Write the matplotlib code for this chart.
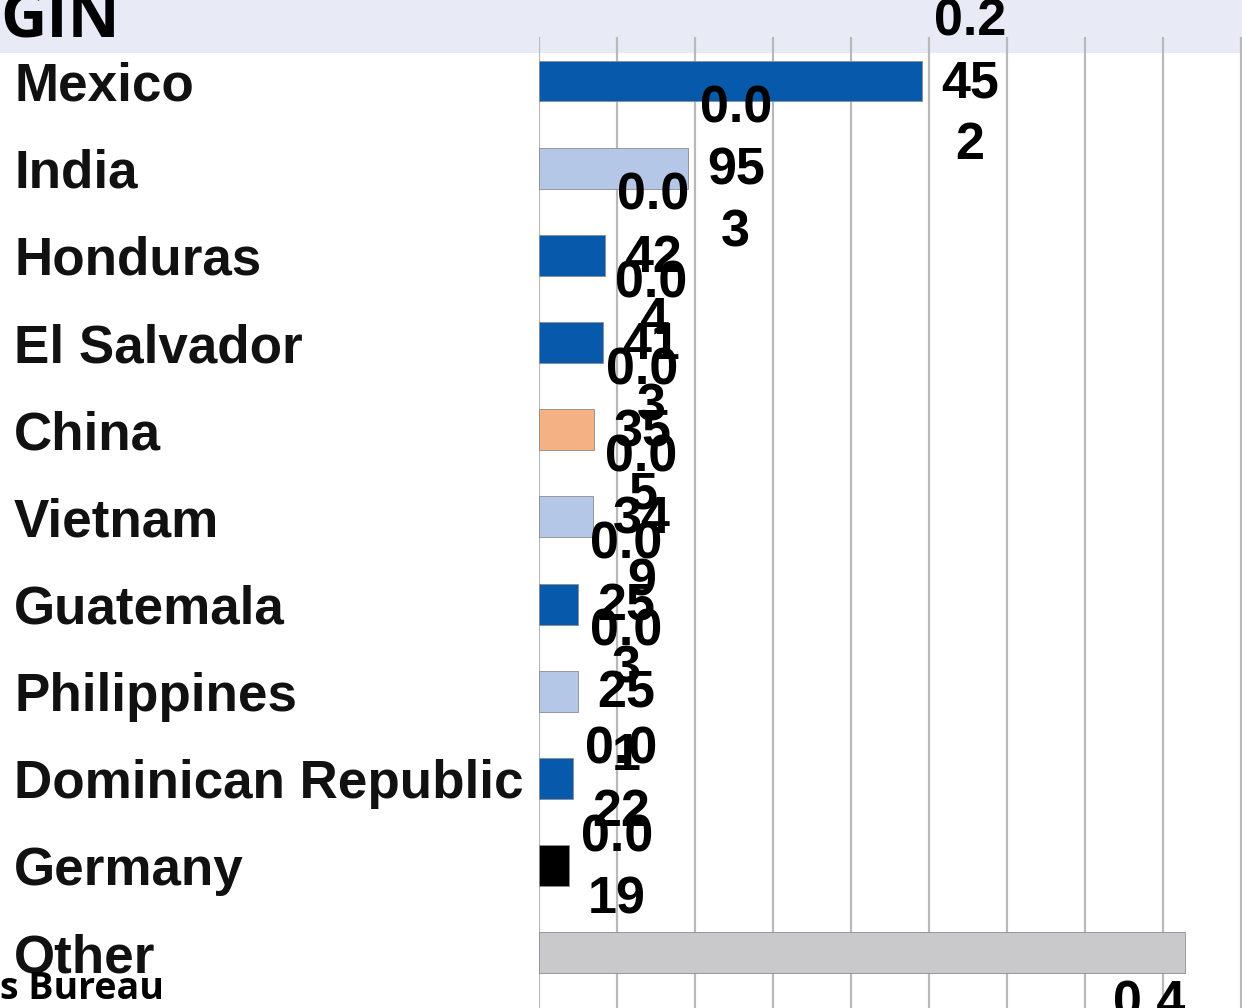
import numpy as np
import matplotlib
matplotlib.use("Agg")
import matplotlib.pyplot as plt
from matplotlib import transforms
from matplotlib.patches import Rectangle

# данные: доля импорта по странам происхождения
countries = ['Mexico', 'India', 'Honduras', 'El Salvador', 'China', 'Vietnam',
             'Guatemala', 'Philippines', 'Dominican Republic', 'Germany', 'Other']
shares = [0.2452, 0.0953, 0.0424, 0.0413, 0.0355, 0.0349,
          0.0253, 0.0251, 0.022, 0.019, 0.414]
bar_colors = ['#0659AB', '#B4C7E7', '#0659AB', '#0659AB', '#F4B183', '#B4C7E7',
              '#0659AB', '#B4C7E7', '#0659AB', '#000000', '#C9C9CB']
grid_ticks = np.arange(0, 0.55, 0.05)

W, H, DPI = 1242, 1008, 100
fig = plt.figure(figsize=(W / DPI, H / DPI), dpi=DPI, facecolor='white')

# светло-сиреневая полоса заголовка (под осями, сетка видна поверх)
fig.patches.append(Rectangle((0, 1 - 53 / H), 1, 53 / H, transform=fig.transFigure,
                             facecolor='#E8EAF6', edgecolor='none', zorder=-1))

ax = fig.add_axes([539 / W, 1 - 1040 / H, 780 / W, (1040 - 37.4) / H])
ax.set_facecolor('none')

y = np.arange(len(countries))
ax.barh(y, shares, height=0.47, color=bar_colors, edgecolor='#8C8C8C',
        linewidth=0.6, zorder=3)

ax.set_xlim(0, 0.5)
ax.set_ylim(11.0, -0.5)
ax.set_xticks(grid_ticks)
ax.set_yticks([])
ax.tick_params(axis='x', length=0, labelbottom=False)
ax.grid(axis='x', color='#B9B9B9', linewidth=1.6, zorder=0)
for sp in ax.spines.values():
    sp.set_visible(False)

cat_font = dict(family='Liberation Sans', weight='bold', fontsize=38.2)
val_font = dict(family='Liberation Sans', weight='bold', fontsize=37.5)

# подписи категорий слева
lab_tr = transforms.blended_transform_factory(fig.transFigure, ax.transData)
for i, name in enumerate(countries):
    ax.text(14 / W, i, name, transform=lab_tr, ha='left', va='center_baseline',
            color='#111111', clip_on=False, **cat_font)

# подписи значений (узкое поле -> перенос строк)
shift = transforms.ScaledTranslation(12 / DPI, -3 / DPI, fig.dpi_scale_trans)
down = transforms.ScaledTranslation(0, -6 / DPI, fig.dpi_scale_trans)
for i, v in enumerate(shares):
    s = f'{v:g}'
    txt = '\n'.join(p for p in [s[:3], s[3:5], s[5:]] if p)
    if i == len(shares) - 1:
        ax.text(v, i + 0.235, txt, ha='right', va='top', multialignment='center',
                transform=ax.transData + down, linespacing=1.34,
                color='black', clip_on=False, **val_font)
    else:
        ax.text(v, i, txt, ha='left', va='center', multialignment='center',
                transform=ax.transData + shift, linespacing=1.34,
                color='black', clip_on=False, **val_font)

# обрезанные фрагменты заголовка и источника
fig.text(0, 1 - 38 / H, 'GIN', ha='left', va='baseline', fontsize=46,
         family='Open Sans', weight='bold', color='black')
fig.text(0, 1 - 999 / H, 's Bureau', ha='left', va='baseline', fontsize=27,
         family='Open Sans', weight='bold', color='black')

fig.savefig('out.png', dpi=DPI, facecolor='white')
